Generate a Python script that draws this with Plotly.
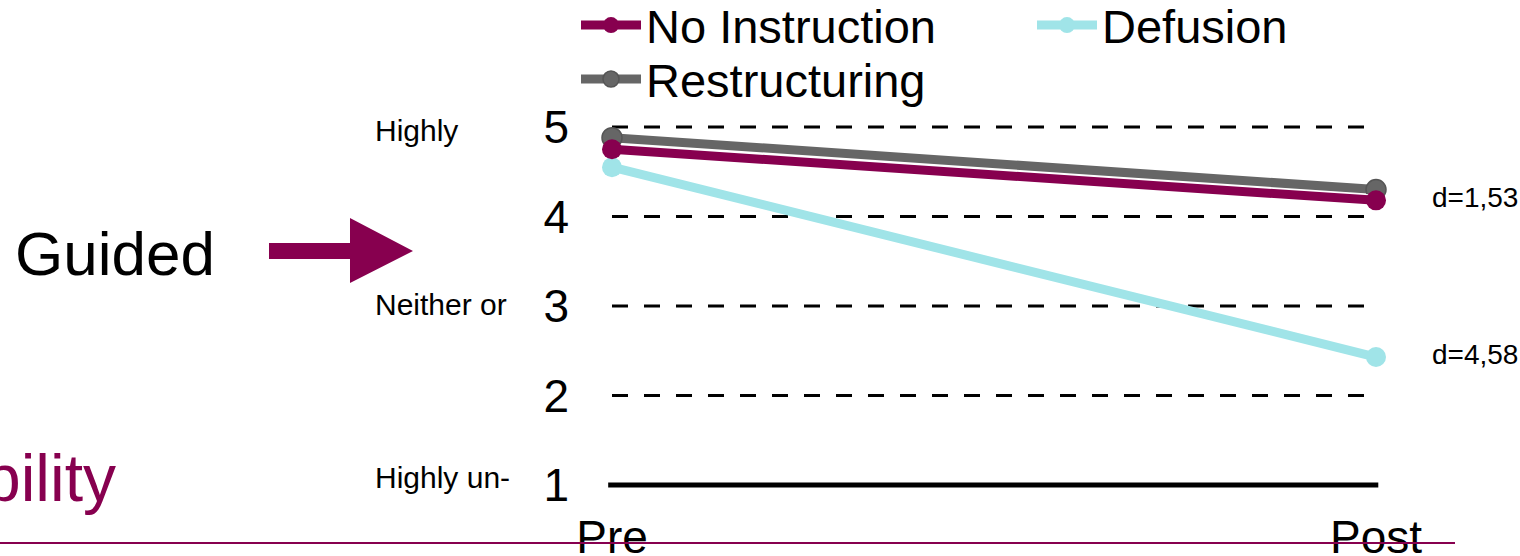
import plotly.graph_objects as go

# ---------------- data ----------------
times = ["Pre", "Post"]
no_instruction = [4.75, 4.18]
restructuring = [4.88, 4.30]
defusion = [4.55, 2.43]
y_ticks = [1, 2, 3, 4, 5]
scale_labels = ["Highly", "Neither or", "Highly un-"]
effect_labels = ["d=1,53", "d=4,58"]

# ---------------- layout constants ----------------
W, H = 1520, 556
ML, MR, MT, MB = 590, 100, 109, 53
PW, PH = W - ML - MR, H - MT - MB
FONT = "Liberation Sans, Arial, sans-serif"
MAGENTA = "#87004F"
GRAY = "#666666"
CYAN = "#A0E4E8"


def px(x):
    return (x - ML) / PW


def py(y):
    return (H - MB - y) / PH


xpos = list(range(len(times)))

fig = go.Figure()

fig.add_trace(go.Scatter(
    x=xpos, y=defusion, name="Defusion", mode="lines+markers",
    line=dict(color=CYAN, width=9), marker=dict(color=CYAN, size=20),
    legend="legend2"))
fig.add_trace(go.Scatter(
    x=xpos, y=restructuring, name="Restructuring", mode="lines+markers",
    line=dict(color=GRAY, width=9),
    marker=dict(color=GRAY, size=20, line=dict(color="#555555", width=1.5)),
    legend="legend3"))
fig.add_trace(go.Scatter(
    x=xpos, y=no_instruction, mode="lines", showlegend=False,
    line=dict(color="white", width=11), hoverinfo="skip"))
fig.add_trace(go.Scatter(
    x=xpos, y=no_instruction, name="No Instruction", mode="lines+markers",
    line=dict(color=MAGENTA, width=9), marker=dict(color=MAGENTA, size=20),
    legend="legend"))

shapes = []
for t in y_ticks:
    if t == min(y_ticks):
        shapes.append(dict(type="line", xref="x", yref="y", x0=-0.005, x1=1.003,
                           y0=t, y1=t, line=dict(color="black", width=5), layer="below"))
    else:
        shapes.append(dict(type="line", xref="x", yref="y", x0=0, x1=1,
                           y0=t, y1=t, line=dict(color="black", width=3, dash="16px,16px"),
                           layer="below"))

# arrow
arrow_pts = [(269, 243), (350, 243), (350, 218), (413, 251), (350, 283), (350, 259), (269, 259)]
path = "M " + " L ".join(f"{px(a):.5f},{py(b):.5f}" for a, b in arrow_pts) + " Z"
shapes.append(dict(type="path", xref="paper", yref="paper", path=path,
                   fillcolor=MAGENTA, line=dict(width=0)))
# bottom rule
shapes.append(dict(type="line", xref="paper", yref="paper", x0=px(0), x1=px(1455),
                   y0=py(543), y1=py(543), line=dict(color=MAGENTA, width=2), layer="above"))

annotations = []
for txt, ypix in zip(scale_labels, [131, 304, 477]):
    annotations.append(dict(text=txt, xref="paper", yref="paper", x=px(373), y=py(ypix),
                            xanchor="left", yanchor="middle", showarrow=False,
                            font=dict(family=FONT, size=30, color="black")))
annotations.append(dict(text="Guided", xref="paper", yref="paper", x=px(13), y=py(253),
                        xanchor="left", yanchor="middle", showarrow=False,
                        font=dict(family=FONT, size=62, color="black")))
annotations.append(dict(text="bility", xref="paper", yref="paper", x=px(118), y=py(478),
                        xanchor="right", yanchor="middle", showarrow=False,
                        font=dict(family=FONT, size=66, color=MAGENTA)))
for txt, ypix in zip(effect_labels, [197, 354]):
    annotations.append(dict(text=txt, xref="paper", yref="paper", x=px(1430), y=py(ypix),
                            xanchor="left", yanchor="middle", showarrow=False,
                            font=dict(family=FONT, size=28, color="black")))

leg_common = dict(xanchor="left", yanchor="top", orientation="v", itemwidth=60,
                  font=dict(family=FONT, size=47, color="black"), bgcolor="rgba(0,0,0,0)")

fig.update_layout(
    width=W, height=H,
    margin=dict(l=ML, r=MR, t=MT, b=MB, autoexpand=False),
    paper_bgcolor="white", plot_bgcolor="white",
    font=dict(family=FONT, color="black"),
    xaxis=dict(range=[-22 / 764, -22 / 764 + PW / 764], tickvals=xpos, ticktext=times,
               showgrid=False, zeroline=False, showline=False, ticks="",
               tickfont=dict(family=FONT, size=46, color="black"), ticklabelstandoff=3),
    yaxis=dict(range=[0.8, 5.2], tickvals=y_ticks, showgrid=False, zeroline=False,
               showline=False, ticks="", ticklabelstandoff=20,
               tickfont=dict(family=FONT, size=46, color="black")),
    legend=dict(x=px(576), y=py(-12), **leg_common),
    legend2=dict(x=px(1032), y=py(-12), **leg_common),
    legend3=dict(x=px(576), y=py(42), **leg_common),
    shapes=shapes, annotations=annotations, showlegend=True,
)

fig.write_html("out.html")
